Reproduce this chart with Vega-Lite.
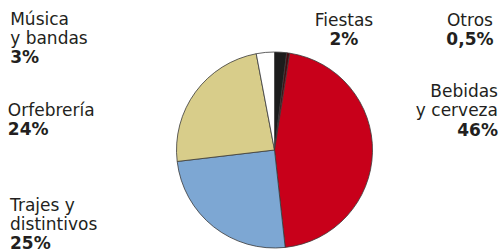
{
  "$schema": "https://vega.github.io/schema/vega-lite/v6.json",
  "autosize": {"type": "none"},
  "width": 453,
  "height": 204,
  "padding": {"left": 48, "top": 48, "right": 0, "bottom": 0},
  "background": "white",
  "config": {"view": {"stroke": null}, "text": {"font": "DejaVu Sans", "fontSize": 17, "color": "#231f20", "lineHeight": 19, "lineBreak": "\n", "baseline": "alphabetic"}},
  "data": {"values": [
    {"categoria": "Fiestas", "nombre": "Fiestas", "pct": "2%", "valor": 2, "orden": 1},
    {"categoria": "Otros", "nombre": "Otros", "pct": "0,5%", "valor": 0.5, "orden": 2},
    {"categoria": "Bebidas y cerveza", "nombre": "Bebidas\ny cerveza", "pct": "46%", "valor": 46, "orden": 3},
    {"categoria": "Trajes y distintivos", "nombre": "Trajes y\ndistintivos", "pct": "25%", "valor": 25, "orden": 4},
    {"categoria": "Orfebrería", "nombre": "Orfebrería", "pct": "24%", "valor": 24, "orden": 5},
    {"categoria": "Música y bandas", "nombre": "Música\ny bandas", "pct": "3%", "valor": 3, "orden": 6}
  ]},
  "encoding": {
    "theta": {"field": "valor", "type": "quantitative", "stack": true},
    "order": {"field": "orden", "type": "quantitative"}
  },
  "layer": [
    {
      "mark": {"type": "arc", "outerRadius": 98, "stroke": "#3a3a3a", "strokeWidth": 0.8},
      "encoding": {
        "color": {
          "field": "categoria", "type": "nominal", "legend": null,
          "scale": {
            "domain": ["Fiestas", "Otros", "Bebidas y cerveza", "Trajes y distintivos", "Orfebrería", "Música y bandas"],
            "range": ["#1c1c1c", "#4a0a10", "#c8001a", "#7da7d3", "#d8cd8a", "#ffffff"]
          }
        }
      }
    },
    {"mark": {"type": "text", "radius": 110, "align": "left", "dx": -254, "dy": -15.5},
     "encoding": {"text": {"condition": {"test": "datum.categoria === 'Música y bandas'", "field": "nombre"}, "value": ""}}},
    {"mark": {"type": "text", "radius": 110, "align": "left", "dx": -254, "dy": 22.5, "fontWeight": "bold"},
     "encoding": {"text": {"condition": {"test": "datum.categoria === 'Música y bandas'", "field": "pct"}, "value": ""}}},
    {"mark": {"type": "text", "radius": 110, "align": "left", "dx": -178, "dy": 31.1},
     "encoding": {"text": {"condition": {"test": "datum.categoria === 'Orfebrería'", "field": "nombre"}, "value": ""}}},
    {"mark": {"type": "text", "radius": 110, "align": "left", "dx": -178, "dy": 50.1, "fontWeight": "bold"},
     "encoding": {"text": {"condition": {"test": "datum.categoria === 'Orfebrería'", "field": "pct"}, "value": ""}}},
    {"mark": {"type": "text", "radius": 110, "align": "left", "dx": -196, "dy": -25.1},
     "encoding": {"text": {"condition": {"test": "datum.categoria === 'Trajes y distintivos'", "field": "nombre"}, "value": ""}}},
    {"mark": {"type": "text", "radius": 110, "align": "left", "dx": -196, "dy": 12.9, "fontWeight": "bold"},
     "encoding": {"text": {"condition": {"test": "datum.categoria === 'Trajes y distintivos'", "field": "pct"}, "value": ""}}},
    {"mark": {"type": "text", "radius": 110, "align": "center", "dx": 62.6, "dy": -14.2},
     "encoding": {"text": {"condition": {"test": "datum.categoria === 'Fiestas'", "field": "nombre"}, "value": ""}}},
    {"mark": {"type": "text", "radius": 110, "align": "center", "dx": 62.6, "dy": 4.8, "fontWeight": "bold"},
     "encoding": {"text": {"condition": {"test": "datum.categoria === 'Fiestas'", "field": "pct"}, "value": ""}}},
    {"mark": {"type": "text", "radius": 110, "align": "center", "dx": 180, "dy": -15.1},
     "encoding": {"text": {"condition": {"test": "datum.categoria === 'Otros'", "field": "nombre"}, "value": ""}}},
    {"mark": {"type": "text", "radius": 110, "align": "center", "dx": 180, "dy": 3.9, "fontWeight": "bold"},
     "encoding": {"text": {"condition": {"test": "datum.categoria === 'Otros'", "field": "pct"}, "value": ""}}},
    {"mark": {"type": "text", "radius": 110, "align": "right", "dx": 113.5, "dy": -55.6},
     "encoding": {"text": {"condition": {"test": "datum.categoria === 'Bebidas y cerveza'", "field": "nombre"}, "value": ""}}},
    {"mark": {"type": "text", "radius": 110, "align": "right", "dx": 113.5, "dy": -16.6, "fontWeight": "bold"},
     "encoding": {"text": {"condition": {"test": "datum.categoria === 'Bebidas y cerveza'", "field": "pct"}, "value": ""}}}
  ]
}
